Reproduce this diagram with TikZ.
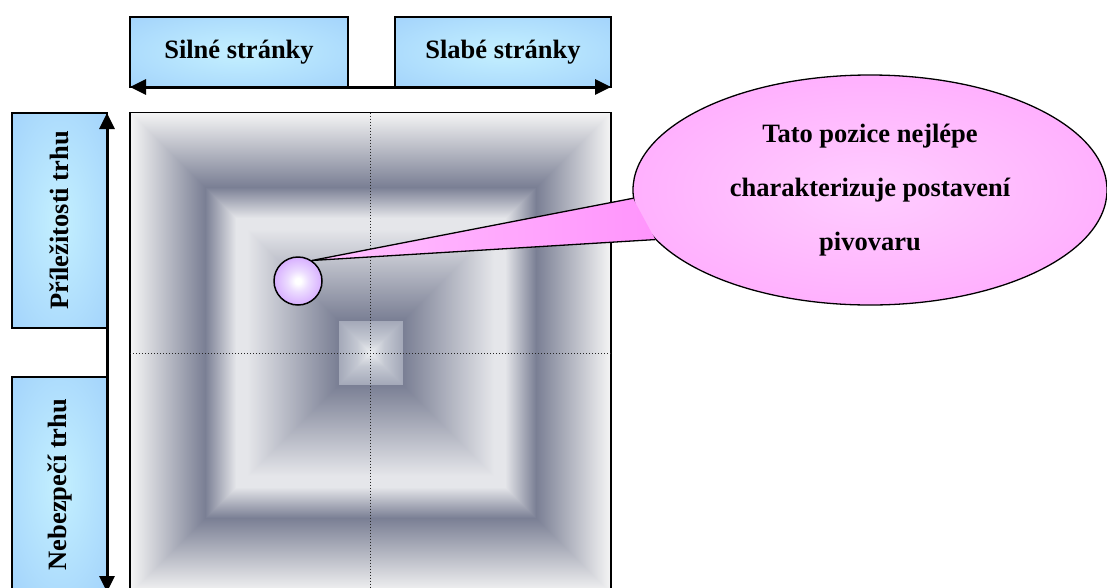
\documentclass[tikz,border=0pt]{standalone}
\usepackage{fontspec}
\usepackage{graphicx}
\setmainfont{Liberation Serif}
\usetikzlibrary{arrows.meta,shapes.geometric}

% palette
\definecolor{edgegray}{RGB}{245,245,245}
\definecolor{darkband}{RGB}{122,127,148}
\definecolor{lightband}{RGB}{229,230,234}
\definecolor{innergray}{RGB}{164,169,185}
\definecolor{midgray}{RGB}{196,200,210}
\definecolor{centergray}{RGB}{238,240,242}
\definecolor{boxinner}{RGB}{196,240,255}
\definecolor{boxouter}{RGB}{150,200,250}
\definecolor{pinkinner}{RGB}{255,205,255}
\definecolor{pinkouter}{RGB}{255,148,252}
\definecolor{tailtip}{RGB}{255,194,255}
\definecolor{ballsoft}{RGB}{236,220,255}
\definecolor{ballmid}{RGB}{214,172,255}
\definecolor{ballouter}{RGB}{192,136,255}

\pgfdeclareradialshading{boxglow}{\pgfpoint{0bp}{0bp}}{color(0bp)=(boxinner); color(50bp)=(boxouter); color(100bp)=(boxouter)}
\pgfdeclareradialshading{pinkglow}{\pgfpoint{0bp}{0bp}}{color(0bp)=(pinkinner); color(50bp)=(pinkouter); color(100bp)=(pinkouter)}
\pgfdeclareradialshading{ballglow}{\pgfpoint{0bp}{0bp}}{color(0bp)=(white); color(3bp)=(white); color(11bp)=(ballsoft); color(26bp)=(ballmid); color(44bp)=(ballouter); color(100bp)=(ballouter)}

\tikzset{
  label font/.style={font=\fontsize{26.5pt}{32pt}\selectfont\bfseries},
  headbox/.style={label font, draw, line width=1.2pt, shading=boxglow,
    inner sep=0pt, outer sep=0pt, minimum height=70pt},
  sidebox/.style={label font, draw, line width=1.2pt, shading=boxglow,
    inner sep=0pt, outer sep=0pt, minimum width=95pt, minimum height=215pt},
  axisarrow/.style={line width=3pt, {Triangle[length=16pt,width=15pt]}-{Triangle[length=16pt,width=15pt]}},
  guide/.style={line width=1pt, black!85, dash pattern=on 1.1pt off 1.9pt},
  ball/.style={circle, draw, line width=1.5pt, shading=ballglow, minimum size=48pt, inner sep=0pt},
  bubble/.style={ellipse, draw, line width=1.3pt, shading=pinkglow,
    minimum width=474pt, minimum height=230pt, inner sep=0pt, align=center,
    font=\fontsize{26.5pt}{54pt}\selectfont\bfseries},
}

\begin{document}
\begin{tikzpicture}[x=1pt,y=-1pt]
\useasboundingbox (0,0) rectangle (1107,587);
\clip (0,0) rectangle (1107,587);

% pyramid shading of the field: nested squares, outer to inner
\foreach \a/\b/\ca/\cb in {241/166/edgegray/darkband, 166/135/darkband/lightband,
    135/124/lightband/lightband, 124/33/lightband/darkband,
    32/14/innergray/midgray, 14/0/midgray/centergray}{
  \pgfmathtruncatemacro\n{\a-\b}
  \foreach \k in {0,...,\n}{
    \pgfmathsetmacro\d{\a-\k}
    \pgfmathsetmacro\p{100*(\d-\b)/(\a-\b)}
    \fill[\ca!\p!\cb] ({370.5-\d},{353-\d}) rectangle ({370.5+\d},{353+\d});
  }
}

% field frame and quadrant guides
\node[draw, line width=1.5pt, minimum size=481pt, inner sep=0pt, outer sep=0pt] (field) at (370.5,353) {};
\draw[guide] (field.north) -- (field.south);
\draw[guide] (field.west) -- (field.east);

% column headers
\node[headbox, minimum width=218pt] (strong) at (239,52) {Silné stránky};
\node[headbox, minimum width=216pt] (weak) at (503,52) {Slabé stránky};
\draw[axisarrow] (strong.south west) -- (weak.south east);

% row headers
\node[sidebox] (opp) at (59.5,220.5) {\rotatebox{90}{Příležitosti trhu}};
\node[sidebox] (threat) at (59.5,484.5) {\rotatebox{90}{Nebezpečí trhu}};
\draw[axisarrow] (opp.north east) -- (threat.south east);

% position marker and its callout
\node[ball] (pos) at (298,281) {};
\node[bubble] (note) at (870,190) {Tato pozice nejlépe\\charakterizuje postavení\\pivovaru};
\shade[left color=tailtip, right color=pinkouter] (pos.56) -- (note.182) -- (note.193) -- cycle;
\draw[line width=1.3pt, line join=round] (note.182) -- (pos.56) -- (note.193);
\end{tikzpicture}
\end{document}
